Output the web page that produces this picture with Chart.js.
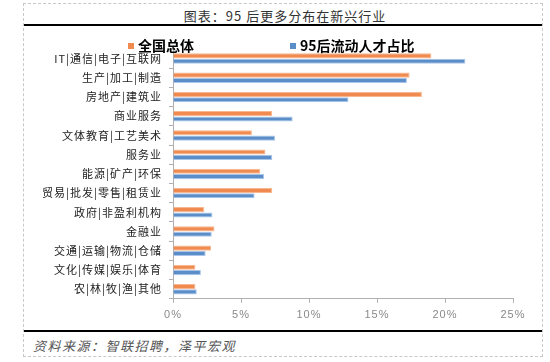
<!DOCTYPE html>
<html lang="zh">
<head>
    <meta charset="UTF-8">
    <title>95后更多分布在新兴行业</title>
    <script src="https://cdn.jsdelivr.net/npm/chart.js"></script>
    <style>
        body { margin: 0; width: 550px; height: 362px; background: #fff; position: relative; overflow: hidden; font-family: "Noto Sans CJK SC", sans-serif; }
        #frame { position: absolute; left: 23px; top: 3px; width: 518px; height: 352px; border: 1px dashed #c8c8c8; }
        #title { position: absolute; left: 0; top: 6px; width: 570px; text-align: center; font-size: 13px; letter-spacing: 1px; color: #333; }
        .rule { position: absolute; left: 24px; width: 518px; height: 2px; background: #000; }
        #source { position: absolute; left: 33px; top: 336px; font-size: 13px; font-style: italic; letter-spacing: 1.5px; color: #555; }
        #wrap { position: absolute; left: 0; top: 30px; width: 550px; height: 298px; }
        .legend { position: absolute; top: 35px; font-size: 14px; font-weight: bold; color: #000; line-height: 20px; }
        .legend i { display: inline-block; width: 6px; height: 6px; margin-right: 4px; vertical-align: 2px; }
    </style>
</head>
<body>
    <div id="frame"></div>
    <div id="title">图表：95 后更多分布在新兴行业</div>
    <div class="rule" style="top: 24px;"></div>
    <div id="wrap"><canvas id="industryChart"></canvas></div>
    <div class="legend" style="left: 128px;"><i style="background:#f08a4e"></i>全国总体</div>
    <div class="legend" style="left: 290px;"><i style="background:#5b8dc9"></i>95后流动人才占比</div>
    <div class="rule" style="top: 330px;"></div>
    <div id="source">资料来源：智联招聘，泽平宏观</div>

    <script>
        const categories = [
            'IT|通信|电子|互联网', '生产|加工|制造', '房地产|建筑业', '商业服务',
            '文体教育|工艺美术', '服务业', '能源|矿产|环保', '贸易|批发|零售|租赁业',
            '政府|非盈利机构', '金融业', '交通|运输|物流|仓储', '文化|传媒|娱乐|体育',
            '农|林|牧|渔|其他'
        ];
        const nationalShare = [19.0, 17.4, 18.3, 7.3, 5.8, 6.8, 6.4, 7.3, 2.3, 3.05, 2.8, 1.65, 1.65];
        const post95Share = [21.5, 17.2, 12.9, 8.8, 7.5, 7.3, 6.7, 6.0, 2.9, 2.85, 2.4, 2.05, 1.75];
        const xTicks = [0, 5, 10, 15, 20, 25];

        // spread the axis text a little, like the original
        const spacing = {
            id: 'spacing',
            beforeDraw: (chart) => { chart.ctx.letterSpacing = '1px'; },
            afterDraw: (chart) => { chart.ctx.letterSpacing = '0px'; }
        };

        const ctx = document.getElementById('industryChart').getContext('2d');
        new Chart(ctx, {
            type: 'bar',
            data: {
                labels: categories,
                datasets: [{
                    label: '全国总体',
                    data: nationalShare,
                    backgroundColor: '#f08a4e',
                    borderColor: '#f8b78f',
                    borderWidth: 1
                }, {
                    label: '95后流动人才占比',
                    data: post95Share,
                    backgroundColor: '#5b8dc9',
                    borderColor: '#a8c6ea',
                    borderWidth: 1
                }]
            },
            plugins: [spacing],
            options: {
                indexAxis: 'y',
                responsive: true,
                maintainAspectRatio: false,
                animation: false,
                layout: { padding: { left: 0, right: 37, top: 19, bottom: 0 } },
                datasets: { bar: { categoryPercentage: 0.56, barPercentage: 0.95 } },
                plugins: {
                    legend: { display: false },
                    tooltip: { enabled: false }
                },
                scales: {
                    x: {
                        min: 0,
                        max: 25,
                        afterBuildTicks: (scale) => { scale.ticks = xTicks.map(v => ({ value: v })); },
                        grid: { drawOnChartArea: false, color: '#b0b0b0', tickLength: 4 },
                        border: { color: '#b0b0b0' },
                        ticks: {
                            color: '#8a8a8a',
                            padding: 6,
                            font: { family: '"Liberation Sans"', size: 11 },
                            callback: (v) => v + '%'
                        }
                    },
                    y: {
                        afterFit: (scale) => { scale.width = 173; },
                        grid: { drawOnChartArea: false, color: '#b0b0b0', tickLength: 4 },
                        border: { color: '#b0b0b0' },
                        ticks: {
                            autoSkip: false,
                            color: '#222',
                            padding: 7,
                            font: { family: '"Noto Sans CJK SC"', size: 11 }
                        }
                    }
                }
            }
        });
    </script>
</body>
</html>
